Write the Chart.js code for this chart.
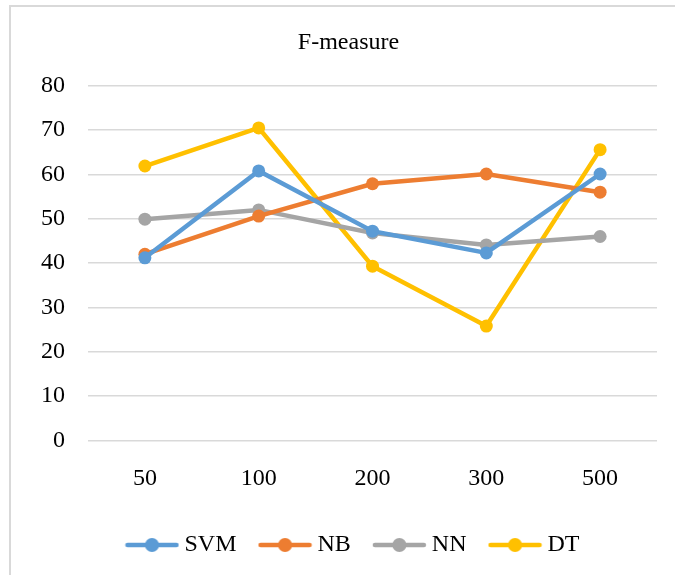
<!DOCTYPE html>
<html>
<head>
<meta charset="utf-8">
<script src="https://cdn.jsdelivr.net/npm/chart.js@4.4.0/dist/chart.umd.min.js"></script>
<style>
  html, body { margin: 0; padding: 0; background: #fff; }
  #wrap { position: relative; width: 675px; height: 575px; overflow: hidden; }
  #frame { position: absolute; left: 9px; top: 5px; width: 720px; height: 620px; border: 2px solid #d9d9d9; box-sizing: border-box; }
  canvas { position: absolute; left: 0; top: 0; }
</style>
</head>
<body>
<div id="wrap">
  <div id="frame"></div>
  <canvas id="chart" width="675" height="575"></canvas>
</div>
<script>
const categories = ['50', '100', '200', '300', '500'];
const svmValues = [41.2, 60.8, 47.2, 42.3, 60.1];
const nbValues = [42.0, 50.6, 57.9, 60.1, 56.0];
const nnValues = [49.9, 52.0, 46.8, 44.1, 46.0];
const dtValues = [61.9, 70.5, 39.3, 25.8, 65.6];
const seriesNames = ['SVM', 'NB', 'NN', 'DT'];
const seriesColors = ['#5b9bd5', '#ed7d31', '#a5a5a5', '#ffc000'];

const fontFamily = '"Liberation Serif", "Times New Roman", serif';

// small line + dot picture for each legend entry
function legendMarker(color) {
  const c = document.createElement('canvas');
  c.width = 55;
  c.height = 16;
  const g = c.getContext('2d');
  g.strokeStyle = color;
  g.lineWidth = 4.5;
  g.lineCap = 'round';
  g.beginPath();
  g.moveTo(3, 8);
  g.lineTo(52, 8);
  g.stroke();
  g.fillStyle = color;
  g.beginPath();
  g.arc(27.5, 8, 7, 0, Math.PI * 2);
  g.fill();
  return c;
}
const markers = seriesColors.map(legendMarker);

const allValues = [svmValues, nbValues, nnValues, dtValues];
const datasets = seriesNames.map((name, i) => ({
  label: name,
  data: allValues[i],
  borderColor: seriesColors[i],
  backgroundColor: seriesColors[i],
  borderWidth: 4.5,
  pointRadius: 6.5,
  pointHoverRadius: 6.5,
  pointBorderWidth: 0,
  tension: 0
}));

// nudge the legend a little to the right, like the original
const legendShift = {
  id: 'legendShift',
  afterLayout(chart) {
    chart.legend.left += 7;
    chart.legend.right += 7;
  }
};

const ctx = document.getElementById('chart').getContext('2d');
new Chart(ctx, {
  type: 'line',
  data: { labels: categories, datasets: datasets },
  plugins: [legendShift],
  options: {
    responsive: false,
    animation: false,
    layout: { padding: { left: 40, right: 18, top: 18, bottom: 8 } },
    plugins: {
      title: {
        display: true,
        text: 'F-measure',
        color: '#000',
        font: { family: fontFamily, size: 24, weight: 'normal' },
        padding: { top: 10, bottom: 29 }
      },
      legend: {
        position: 'bottom',
        labels: {
          color: '#000',
          font: { family: fontFamily, size: 24 },
          usePointStyle: true,
          pointStyleWidth: 41,
          padding: 28,
          generateLabels: (chart) => {
            const items = Chart.defaults.plugins.legend.labels.generateLabels(chart);
            items.forEach((item, i) => { item.pointStyle = markers[i]; });
            return items;
          }
        }
      },
      tooltip: { enabled: false }
    },
    scales: {
      x: {
        offset: true,
        grid: { display: false, drawTicks: false },
        border: { display: false },
        ticks: { color: '#000', font: { family: fontFamily, size: 24 }, padding: 24 },
        afterFit: (scale) => { scale.height = 64.6; }
      },
      y: {
        min: 0,
        max: 80,
        ticks: { stepSize: 10, color: '#000', font: { family: fontFamily, size: 24 }, padding: 23 },
        grid: { color: '#d9d9d9', lineWidth: 1.5, drawTicks: false },
        border: { display: false },
        afterFit: (scale) => { scale.width = 48; }
      }
    }
  }
});
</script>
</body>
</html>
